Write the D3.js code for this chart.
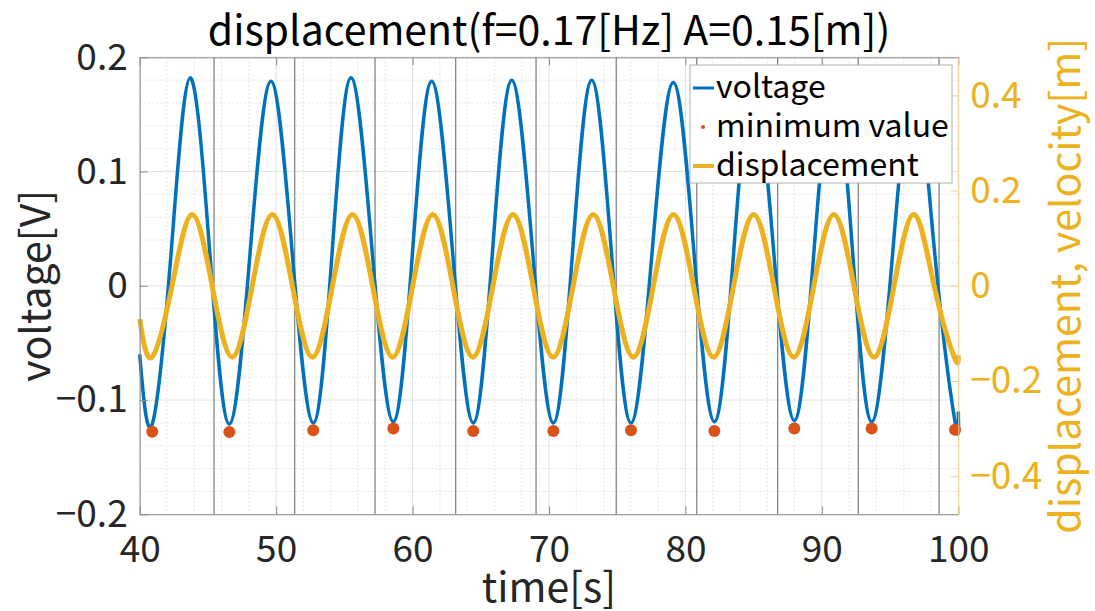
<!DOCTYPE html>
<html>
<head>
<meta charset="utf-8">
<script src="https://cdn.jsdelivr.net/npm/d3@7"></script>
<style>
  body { margin: 0; background: #fff; }
  svg text { font-family: "Noto Sans CJK JP", "Noto Sans", sans-serif; }
</style>
</head>
<body>
<svg id="chart" width="1095" height="611"></svg>
<script>
// voltage trace, read at troughs / mid-swings / peaks
var voltT = [40.00, 40.92, 42.31, 43.69, 45.13, 46.57, 48.10, 49.62, 51.17, 52.72, 54.11, 55.49, 57.04, 58.59,
             60.00, 61.40, 62.93, 64.45, 65.86, 67.27, 68.80, 70.32, 71.73, 73.13, 74.57, 76.01, 77.56, 79.11,
             80.62, 82.12, 83.54, 84.95, 86.47, 87.98, 89.42, 90.85, 92.25, 93.65, 95.20, 96.75, 98.26, 99.76, 100.00];
var voltV = [-0.060, -0.121, 0.030, 0.182, 0.030, -0.121, 0.030, 0.179, 0.030, -0.120, 0.030, 0.182, 0.030, -0.119,
             0.030, 0.179, 0.030, -0.120, 0.030, 0.180, 0.030, -0.120, 0.030, 0.180, 0.030, -0.120, 0.030, 0.178,
             0.030, -0.119, 0.030, 0.179, 0.030, -0.118, 0.030, 0.179, 0.030, -0.119, 0.030, 0.180, 0.030, -0.119, -0.110];

// detected minima (red dots)
var minT = [40.92, 46.57, 52.72, 58.59, 64.45, 70.32, 76.01, 82.12, 87.98, 93.65, 99.76];
var minV = [-0.1278, -0.1280, -0.1264, -0.1249, -0.1270, -0.1270, -0.1264, -0.1270, -0.1249, -0.1250, -0.1260];

// displacement (right axis)
var dispT = [40.00, 40.90, 42.37, 43.84, 45.31, 46.78, 48.25, 49.72, 51.19, 52.66, 54.13, 55.60, 57.07, 58.54,
             60.01, 61.48, 62.95, 64.42, 65.89, 67.36, 68.83, 70.30, 71.77, 73.24, 74.71, 76.18, 77.65, 79.12,
             80.59, 82.06, 83.53, 85.00, 86.47, 87.94, 89.41, 90.88, 92.35, 93.82, 95.29, 96.76, 98.23, 99.70, 100.00];
var dispV = [-0.070, -0.150, 0, 0.150, 0, -0.150, 0, 0.150, 0, -0.150, 0, 0.150, 0, -0.150,
             0, 0.150, 0, -0.150, 0, 0.150, 0, -0.150, 0, 0.150, 0, -0.150, 0, 0.150,
             0, -0.150, 0, 0.150, 0, -0.150, 0, 0.150, 0, -0.150, 0, 0.150, 0, -0.150, -0.146];

// gray vertical markers
var markT = [45.45, 51.36, 57.25, 63.16, 69.05, 74.93, 80.83, 86.76, 92.67, 98.59];

var xTicks = [40, 50, 60, 70, 80, 90, 100];
var yLTicks = [-0.2, -0.1, 0, 0.1, 0.2];
var yRTicks = [-0.4, -0.2, 0, 0.2, 0.4];
var legendNames = ["voltage", "minimum value", "displacement"];

var blue = "#0072BD", red = "#D95319", yellow = "#EDB120";

var svg = d3.select("#chart");
var box = {l: 139.7, r: 958.3, t: 57.3, b: 514.3};

var x = d3.scaleLinear().domain([40, 100]).range([box.l, box.r]);
var yL = d3.scaleLinear().domain([-0.2, 0.2]).range([box.b, box.t]);
var yR = d3.scaleLinear().domain([-0.48, 0.48]).range([box.b, box.t]);

var fmt = function(d) { return d === 0 ? "0" : d3.format(".1f")(d); };

// minor grid
var g = svg.append("g");
g.selectAll(".mx").data(d3.range(40, 100.01, 2).filter(d => d % 10 !== 0))
  .join("line")
  .attr("x1", d => x(d)).attr("x2", d => x(d)).attr("y1", box.t).attr("y2", box.b)
  .attr("stroke", "#e3e3e3").attr("stroke-dasharray", "2,2");
g.selectAll(".my").data(d3.range(-0.2, 0.2001, 0.02).filter(d => Math.abs(Math.round(d * 100)) % 10 !== 0))
  .join("line")
  .attr("y1", d => yL(d)).attr("y2", d => yL(d)).attr("x1", box.l).attr("x2", box.r)
  .attr("stroke", "#e3e3e3").attr("stroke-dasharray", "2,2");
// major grid
g.selectAll(".gx").data(xTicks).join("line")
  .attr("x1", d => x(d)).attr("x2", d => x(d)).attr("y1", box.t).attr("y2", box.b)
  .attr("stroke", "#e2e2e2");
g.selectAll(".gy").data(yLTicks).join("line")
  .attr("y1", d => yL(d)).attr("y2", d => yL(d)).attr("x1", box.l).attr("x2", box.r)
  .attr("stroke", "#e2e2e2");

// vertical markers
svg.append("g").selectAll("line").data(markT).join("line")
  .attr("x1", d => x(d)).attr("x2", d => x(d)).attr("y1", box.t).attr("y2", box.b)
  .attr("stroke", "#858585").attr("stroke-width", 1.3);

var lineV = d3.line().x((d, i) => x(voltT[i])).y(d => yL(d)).curve(d3.curveNatural);
svg.append("path").datum(voltV)
  .attr("fill", "none").attr("stroke", blue).attr("stroke-width", 3.5)
  .attr("stroke-linejoin", "round").attr("d", lineV);

svg.append("g").selectAll("circle").data(minV).join("circle")
  .attr("cx", (d, i) => x(minT[i])).attr("cy", d => yL(d)).attr("r", 6)
  .attr("fill", red);

var lineD = d3.line().x((d, i) => x(dispT[i])).y(d => yR(d)).curve(d3.curveNatural);
svg.append("path").datum(dispV)
  .attr("fill", "none").attr("stroke", yellow).attr("stroke-width", 5)
  .attr("stroke-linejoin", "round").attr("d", lineD);

// axes
var axColor = "#8a8a8a";
function styleAxis(sel, col, txt) {
  sel.select(".domain").attr("stroke", col);
  sel.selectAll(".tick line").attr("stroke", col);
  sel.selectAll(".tick text").attr("fill", txt).style("font-size", "37px");
}
svg.append("g").attr("transform", "translate(0," + box.b + ")")
  .call(d3.axisBottom(x).tickValues(xTicks).tickSize(-8).tickSizeOuter(0).tickPadding(21))
  .call(s => styleAxis(s, axColor, "#262626"));
svg.append("g").attr("transform", "translate(0," + box.t + ")")
  .call(d3.axisTop(x).tickValues(xTicks).tickSize(-8).tickSizeOuter(0).tickFormat(""))
  .call(s => styleAxis(s, axColor, "#262626"));
svg.append("g").attr("transform", "translate(" + box.l + ",0)")
  .call(d3.axisLeft(yL).tickValues(yLTicks).tickFormat(fmt).tickSize(-8).tickSizeOuter(0).tickPadding(12))
  .call(s => styleAxis(s, axColor, "#262626"));
svg.append("g").attr("transform", "translate(" + box.r + ",0)")
  .call(d3.axisRight(yR).tickValues(yRTicks).tickFormat(fmt).tickSize(-8).tickSizeOuter(0).tickPadding(12))
  .call(s => styleAxis(s, "#f3d48a", yellow));

// labels
svg.append("text").attr("x", (box.l + box.r) / 2).attr("y", 45)
  .attr("text-anchor", "middle").style("font-size", "41px").attr("fill", "#000")
  .text("displacement(f=0.17[Hz] A=0.15[m])");
svg.append("text").attr("x", (box.l + box.r) / 2).attr("y", 602)
  .attr("text-anchor", "middle").style("font-size", "41px").attr("fill", "#262626")
  .text("time[s]");
svg.append("text").attr("transform", "translate(50," + yL(0) + ") rotate(-90)")
  .attr("text-anchor", "middle").style("font-size", "41px").attr("fill", "#262626")
  .text("voltage[V]");
svg.append("text").attr("transform", "translate(1080," + yL(0) + ") rotate(-90)")
  .attr("text-anchor", "middle").style("font-size", "41px").attr("fill", yellow)
  .text("displacement, velocity[m]");

// legend
var lg = svg.append("g").attr("transform", "translate(690,65)");
lg.append("rect").attr("width", 262).attr("height", 118)
  .attr("fill", "#fff").attr("stroke", "#b0b0b0");
var rows = lg.selectAll("g").data(legendNames).join("g")
  .attr("transform", (d, i) => "translate(0," + (23 + i * 39) + ")");
rows.append("text").attr("x", 26).attr("y", 10).style("font-size", "32px").attr("fill", "#000")
  .text(d => d);
rows.filter((d, i) => i === 0).append("line")
  .attr("x1", 3).attr("x2", 24).attr("stroke", blue).attr("stroke-width", 3);
rows.filter((d, i) => i === 1).append("circle")
  .attr("cx", 13).attr("cy", 0).attr("r", 2).attr("fill", red);
rows.filter((d, i) => i === 2).append("line")
  .attr("x1", 3).attr("x2", 24).attr("stroke", yellow).attr("stroke-width", 4);
</script>
</body>
</html>
